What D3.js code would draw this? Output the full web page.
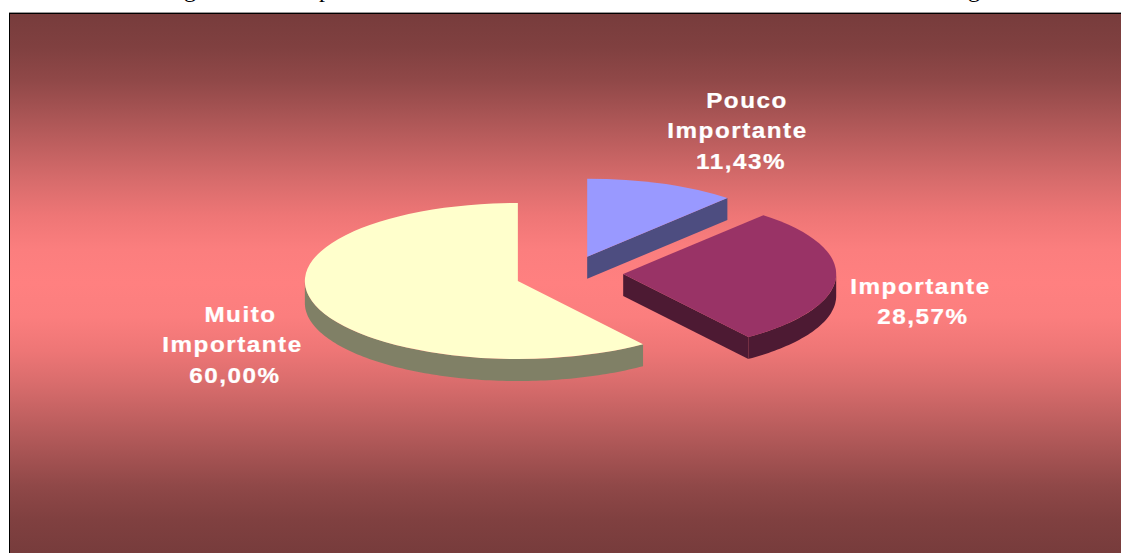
<!DOCTYPE html>
<html>
<head>
<meta charset="utf-8">
<script src="https://cdn.jsdelivr.net/npm/d3@7"></script>
<style>
    html, body { margin: 0; padding: 0; background: #fff; overflow: hidden; }
    svg { display: block; }
    .label { font-family: "Liberation Sans", Arial, sans-serif; font-weight: bold; font-size: 22px; letter-spacing: 1.4px; fill: #fff; stroke: #fff; stroke-width: 0.25px; text-anchor: middle; }
    .cut-title { font-family: "Liberation Serif", "Times New Roman", serif; font-size: 24px; fill: #000; text-anchor: middle; }
</style>
</head>
<body>
<svg id="chart" width="1121" height="553"></svg>
<script>
// slices go clockwise from 12 o'clock
const categories = ["Pouco Importante", "Importante", "Muito Importante"];
const values = [11.43, 28.57, 60.00];
const labelLines = [["Pouco", "Importante", "11,43%"], ["Importante", "28,57%"], ["Muito", "Importante", "60,00%"]];
const topColors = ["#9999FF", "#993366", "#FFFFCC"];
const wallColors = ["#4D4D80", "#4D1A33", "#808066"];
// panel background from the edge to the middle, mirrored
const bgColors = ["#773C3C", "#804040", "#904848", "#A85454", "#C06060", "#D86C6C", "#EE7676", "#FB7E7E", "#FF8080"];

const width = 1121, height = 553;
const cx = 568.5, cy = 275, rx = 213, ry = 78, depth = 22, explode = 0.25;
const redNudge = [1.5, -2];
const labelX = [[747, 737.5, 741], [920.5, 923], [240.5, 232.5, 235]];
const labelY = [108, 294, 322];
const lineStep = 30.3;
const labelStretch = 1.1;

const svg = d3.select("#chart");

const bgOffset = d3.scaleLinear().domain([0, bgColors.length - 1]).range([0, 0.5]);
const bgStops = bgColors.map((c, i) => [bgOffset(i), c])
    .concat(bgColors.slice(0, -1).map((c, i) => [1 - bgOffset(i), c]).reverse());

const grad = svg.append("defs").append("linearGradient")
    .attr("id", "panel-bg")
    .attr("x1", 0).attr("x2", 0).attr("y1", 0).attr("y2", 1);
grad.selectAll("stop")
    .data(bgStops)
    .enter().append("stop")
    .attr("offset", d => d[0])
    .attr("stop-color", d => d[1]);

// what is left of the title line, cut off by the top of the page
svg.selectAll(".cut-title")
    .data([["g", 190], ["p", 325], ["g", 974]])
    .enter().append("text")
    .attr("class", "cut-title")
    .attr("x", d => d[1])
    .attr("y", -3)
    .text(d => d[0]);

svg.append("rect")
    .attr("x", 9).attr("y", 13)
    .attr("width", width - 9).attr("height", height - 13)
    .attr("fill", "url(#panel-bg)");
svg.append("rect").attr("x", 9).attr("y", 12).attr("width", width - 9).attr("height", 1).attr("fill", "#999");
svg.append("rect").attr("x", 9).attr("y", 13).attr("width", width - 9).attr("height", 1).attr("fill", "#000");
svg.append("rect").attr("x", 9).attr("y", 13).attr("width", 1).attr("height", height - 13).attr("fill", "#000");

const slices = d3.pie().sort(null).value(d => d)(values);
const arc = d3.arc().innerRadius(0).outerRadius(rx);

const wallArea = d3.area()
    .x(d => d[0])
    .y0(d => d[1])
    .y1(d => d[1] + depth);

const onRim = a => [rx * Math.sin(a), -ry * Math.cos(a)];

const node = svg.append("g").selectAll("g")
    .data(slices)
    .enter().append("g")
    .attr("transform", d => {
        const mid = (d.startAngle + d.endAngle) / 2;
        const p = onRim(mid);
        const nudge = d.index === 1 ? redNudge : [0, 0];
        return `translate(${cx + explode * p[0] + nudge[0]},${cy + explode * p[1] + nudge[1]})`;
    });

// cut face, only when the closing edge looks towards the viewer
node.filter(d => d.endAngle < Math.PI)
    .append("path")
    .attr("fill", d => wallColors[d.index])
    .attr("d", d => wallArea([[0, 0], onRim(d.endAngle)]));

// rim, only the front half of the ellipse shows
node.append("path")
    .attr("fill", d => wallColors[d.index])
    .attr("d", d => {
        const a0 = Math.max(d.startAngle, Math.PI / 2);
        const a1 = Math.min(d.endAngle, Math.PI * 1.5);
        if (a1 <= a0) return null;
        return wallArea(d3.range(a0, a1, 0.02).concat(a1).map(onRim));
    });

node.append("path")
    .attr("transform", `scale(1,${ry / rx})`)
    .attr("fill", d => topColors[d.index])
    .attr("d", arc);

labelLines.forEach((lines, i) => {
    svg.append("text")
        .attr("class", "label")
        .attr("transform", `scale(${labelStretch},1)`)
        .selectAll("tspan")
        .data(lines)
        .enter().append("tspan")
        .attr("x", (d, j) => labelX[i][j] / labelStretch)
        .attr("y", (d, j) => labelY[i] + j * lineStep)
        .text(d => d);
});
</script>
</body>
</html>
